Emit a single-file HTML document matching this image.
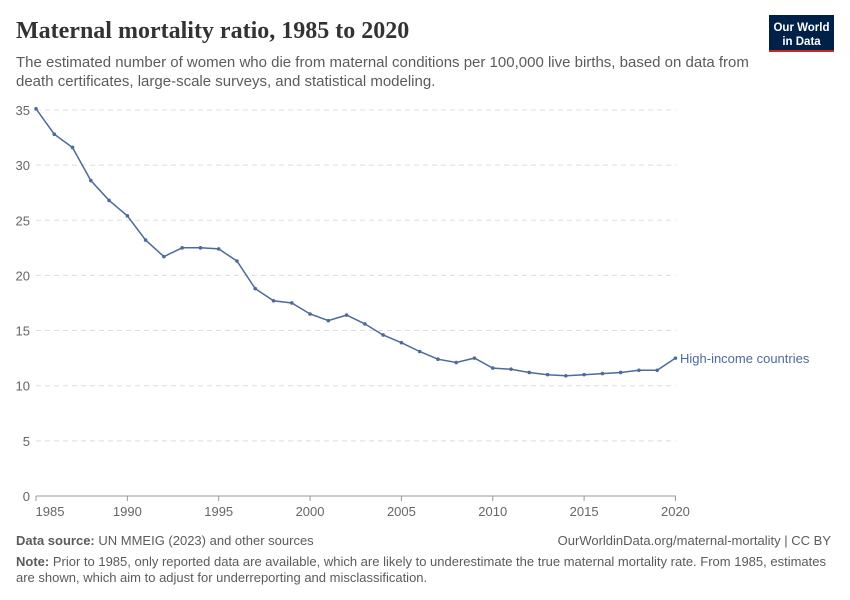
<!DOCTYPE html>
<html><head><meta charset="utf-8"><style>
body{margin:0;background:#fff;font-family:"Liberation Sans",sans-serif;}
</style></head><body>
<svg id="s" width="850" height="600" xmlns="http://www.w3.org/2000/svg" style="display:block">
<text x="16" y="38" font-family="Liberation Serif,serif" font-size="24" font-weight="bold" fill="#333">Maternal mortality ratio, 1985 to 2020</text>
<text x="16" y="67" font-size="15" fill="#5b5b5b">The estimated number of women who die from maternal conditions per 100,000 live births, based on data from</text>
<text x="16" y="86" font-size="15" fill="#5b5b5b">death certificates, large-scale surveys, and statistical modeling.</text>
<rect x="769" y="15" width="65" height="37" fill="#002147"/>
<rect x="769" y="50" width="65" height="2" fill="#ce261e"/>
<text x="801.5" y="31" font-size="11.5" fill="#fff" text-anchor="middle" font-weight="bold">Our World</text>
<text x="801.5" y="45" font-size="11.5" fill="#fff" text-anchor="middle" font-weight="bold">in Data</text>
<g id="g"></g>
<text x="16" y="545" font-size="13" fill="#5b5b5b"><tspan font-weight="bold">Data source:</tspan> UN MMEIG (2023) and other sources</text>
<text x="831" y="545" font-size="13" fill="#5b5b5b" text-anchor="end">OurWorldinData.org/maternal-mortality | CC BY</text>
<text x="16" y="566" font-size="13" fill="#5b5b5b"><tspan font-weight="bold">Note:</tspan> Prior to 1985, only reported data are available, which are likely to underestimate the true maternal mortality rate. From 1985, estimates</text>
<text x="16" y="582" font-size="13" fill="#5b5b5b">are shown, which aim to adjust for underreporting and misclassification.</text>
</svg>
<script>
var v=[35.1,32.8,31.6,28.6,26.8,25.4,23.2,21.7,22.5,22.5,22.4,21.3,18.8,17.7,17.5,16.5,15.9,16.4,15.6,14.6,13.9,13.1,12.4,12.1,12.5,11.6,11.5,11.2,11.0,10.9,11.0,11.1,11.2,11.4,11.4,12.5];
function X(y){return 36+(y-1985)*18.27;}function Y(d){return 496-d*11.03;}
var h='';
for(var t=0;t<=35;t+=5){var y=Y(t);
if(t>0)h+='<line x1="36" x2="676" y1="'+y+'" y2="'+y+'" stroke="#ddd" stroke-dasharray="5,4"/>';
h+='<text x="30" y="'+(y+5)+'" font-size="13" fill="#666" text-anchor="end">'+t+'</text>';}
h+='<line x1="36" x2="676" y1="496" y2="496" stroke="#999"/>';
for(var yr=1985;yr<=2020;yr+=5){var x=X(yr);
h+='<line x1="'+x+'" x2="'+x+'" y1="496" y2="501" stroke="#999"/>';
h+='<text x="'+(yr==1985?50:x)+'" y="516" font-size="13" fill="#666" text-anchor="middle">'+yr+'</text>';}
var p='';for(var i=0;i<v.length;i++){p+=(i?'L':'M')+X(1985+i).toFixed(1)+','+Y(v[i]).toFixed(1);
h+='<circle cx="'+X(1985+i)+'" cy="'+Y(v[i])+'" r="1.8" fill="#4c6a9c"/>';}
h+='<path d="'+p+'" fill="none" stroke="#4c6a9c" stroke-width="1.5"/>';
h+='<text x="680" y="'+(Y(12.5)+5)+'" font-size="13" fill="#4c6a9c">High-income countries</text>';
document.getElementById('g').innerHTML=h;
</script>
</body></html>
